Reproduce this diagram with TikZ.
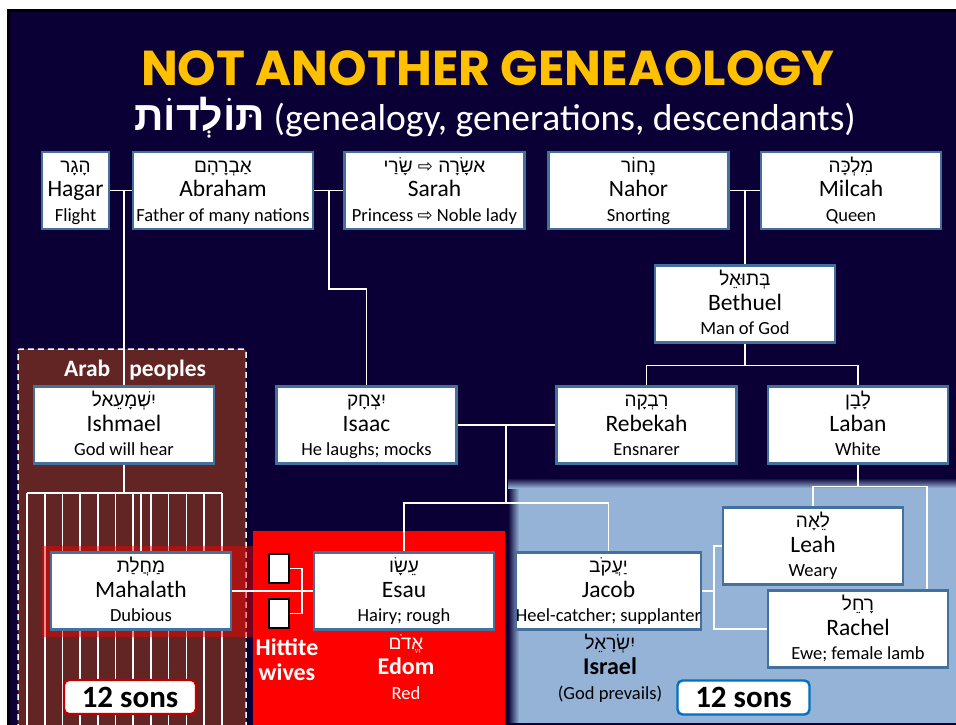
\documentclass[tikz,border=0pt]{standalone}
\usepackage{fontspec}
\setmainfont{Carlito}
\newfontfamily\hebfont[Script=Hebrew]{Liberation Sans}
\newfontfamily\titlefont{Poppins}
\newfontfamily\symfont{DejaVu Sans}
\TeXXeTstate=1
\usetikzlibrary{calc,positioning}
\definecolor{navy}{HTML}{0A0036}
\definecolor{edge}{HTML}{41719C}
\definecolor{arab}{HTML}{632523}
\definecolor{edom}{HTML}{FF0000}
\definecolor{isr}{HTML}{95B3D7}
\definecolor{gold}{HTML}{FFC000}
\definecolor{sonsR}{HTML}{C00000}
\definecolor{sonsB}{HTML}{0070C0}
\def\heb#1{{\hebfont\fontsize{19}{24.5}\selectfont\rule{0pt}{20pt}\beginR #1\endR}}
\def\mean#1{{\fontsize{18.5}{24.5}\selectfont #1\rule[-8pt]{0pt}{8pt}}}
\def\arr{{\symfont\fontsize{18}{24.5}\selectfont ⇨}}

\begin{document}
\begin{tikzpicture}[x=1pt,y=-1pt,
  person/.style={draw=edge,line width=2.2pt,fill=white,minimum width=180pt,
    minimum height=75pt,inner sep=0pt,align=center,
    font=\fontsize{23.5}{24.5}\selectfont},
  link/.style={draw=white,line width=1.6pt},
  wife/.style={draw=black,line width=2.4pt,fill=white,minimum width=20pt,
    minimum height=29pt,inner sep=0pt},
  sons/.style={fill=white,line width=2.4pt,rounded corners=5pt,minimum width=132pt,
    minimum height=34pt,inner sep=0pt,font=\bfseries\fontsize{31}{32}\selectfont},
  lbl/.style={text=white,font=\bfseries\fontsize{24}{25}\selectfont,align=center}]
  \useasboundingbox (0,0) rectangle (956,725);
  % background and regions
  \fill[navy] (7,9) rectangle (956,725);
  \draw[black,line width=3pt] (8.5,725) -- (8.5,10.5) -- (956,10.5);
  \draw[white,line width=1.5pt,dash pattern=on 6pt off 4pt,fill=arab,rounded corners=2pt]
    (18,730) -- (18,349) -- (246,349) -- (246,730);
  \fill[edom] (253,531) rectangle (505,730);
  \fill[isr] (508,478) rectangle (956,723);
  \shade[left color=navy,right color=isr] (508,478) rectangle (519,723);
  \shade[top color=navy,bottom color=isr] (508,478) rectangle (956,488);
  \fill[navy] (505,723) rectangle (956,725);

  % title
  \node[anchor=base,text=gold,font=\titlefont\bfseries\fontsize{49}{50}\selectfont] (title)
    at (488,85) {NOT ANOTHER GENEAOLOGY};
  \node[anchor=base,text=white,font=\fontsize{37.5}{40}\selectfont] (subtitle) at (495,130)
    {{\hebfont\bfseries\fontsize{41}{40}\selectfont\beginR תּוֹלְדוֹת\endR} (genealogy, generations, descendants)};

  % Ishmael's twelve sons
  \foreach \i in {0,...,11}
    \draw[link] ({27+17.7*\i},493) -- ({27+17.7*\i},725);
  \draw[link] (27,493) -- (222,493);
  \fill[red,opacity=.45] (42,546) rectangle (253,637);

  % people
  \node[person,minimum width=67pt] (hagar) at (75.5,190.5) {\heb{הָגָר}\\Hagar\\\mean{Flight}};
  \node[person] (abraham) at (223,190.5) {\heb{אַבְרָהָם}\\Abraham\\\mean{Father of many nations}};
  \node[person] (sarah) at (434.5,190.5)
    {\heb{שָׂרַי}\ \arr\ \heb{אשָׂרָה}\\Sarah\\\mean{Princess \arr\ Noble lady}};
  \node[person] (nahor) at (638.5,190.5) {\heb{נָחוֹר}\\Nahor\\\mean{Snorting}};
  \node[person] (milcah) at (851,190.5) {\heb{מִלְכָּה}\\Milcah\\\mean{Queen}};
  \node[person] (bethuel) at (745,304) {\heb{בְּתוּאֵל}\\Bethuel\\\mean{Man of God}};
  \node[person] (ishmael) at (124,425) {\heb{יִשְׁמָעֵאל}\\Ishmael\\\mean{God will hear}};
  \node[person] (isaac) at (366.5,425) {\heb{יִצְחָק}\\Isaac\\\mean{He laughs; mocks}};
  \node[person] (rebekah) at (646.5,425) {\heb{רִבְקָה}\\Rebekah\\\mean{Ensnarer}};
  \node[person] (laban) at (858,425) {\heb{לָבָן}\\Laban\\\mean{White}};
  \node[person] (leah) at (813,546) {\heb{לֵאָה}\\Leah\\\mean{Weary}};
  \node[person] (mahalath) at (141,591) {\heb{מַחֲלַת}\\Mahalath\\\mean{Dubious}};
  \node[person] (esau) at (404,591) {\heb{עֵשָׂו}\\Esau\\\mean{Hairy; rough}};
  \node[person] (jacob) at (608.5,591) {\heb{יַעֲקֹב}\\Jacob\\\mean{Heel-catcher; supplanter}};
  \node[person] (rachel) at (858,629) {\heb{רָחֵל}\\Rachel\\\mean{Ewe; female lamb}};
  \node[wife] (wifeA) at (279,568.5) {};
  \node[wife] (wifeB) at (279,613.5) {};

  % connectors
  \draw[link] (hagar) -- (abraham);
  \draw[link] (ishmael.north) -- (ishmael |- hagar.east);
  \draw[link] (abraham) -- (sarah);
  \coordinate (as) at ($(abraham.east)!.5!(sarah.west)$);
  \draw[link] (as) -- ++(0,98.5) -| (isaac.north);
  \draw[link] (nahor) -- (milcah);
  \draw[link] (bethuel.north) -- (bethuel |- nahor.east);
  \draw[link] (bethuel.south) -- ++(0,22) coordinate (bk);
  \draw[link] (rebekah.north) |- (bk) -| (laban.north);
  \draw[link] (isaac) -- (rebekah);
  \coordinate (ir) at (506,425);
  \coordinate (kids) at (506,503);
  \draw[link] (ir) -- (kids);
  \draw[link] (esau.north) |- (kids) -| (jacob.north);
  \draw[link] (ishmael.south) -- (ishmael |- 0,493);
  \draw[link] (mahalath.north) -- (mahalath |- 0,493);
  \draw[link] (mahalath) -- (esau);
  \draw[link] (wifeA.east) -- ++(12,0) |- (wifeB.east);
  \draw[link] (laban.south) -- ++(0,22) coordinate (lb);
  \draw[link] (leah.north) |- (lb) -| ([xshift=-22pt]rachel.north east);
  \draw[link] (jacob.east) -- ++(12,0) coordinate (jw);
  \draw[link] (leah.west) -| (jw) |- (rachel.west);

  % labels
  \node[lbl,font=\bfseries\fontsize{23.5}{24}\selectfont] (arabpeoples) at (135,370)
    {Arab\hspace{19pt}peoples};
  \draw[link] (ishmael |- 0,349) -- (ishmael.north);
  \node[lbl] (hittite) at (287,659.5) {Hittite\\wives};
  \node[text=white,font=\fontsize{18.5}{25}\selectfont,align=center] (edom) at (406,668)
    {\heb{אֱדֹם}\\{\bfseries\fontsize{24}{25}\selectfont Edom}\\\mean{Red}};
  \node[text=black,font=\fontsize{18.5}{25}\selectfont,align=center] (israel) at (610,668)
    {\heb{יִשְׂרָאֵל}\\{\bfseries\fontsize{24}{25}\selectfont Israel}\\\mean{(God prevails)}};
  \node[sons,draw=sonsR] (arabsons) at (130,697) {12 sons};
  \node[sons,draw=sonsB] (israelsons) at (743.5,697.5) {12 sons};
\end{tikzpicture}
\end{document}
